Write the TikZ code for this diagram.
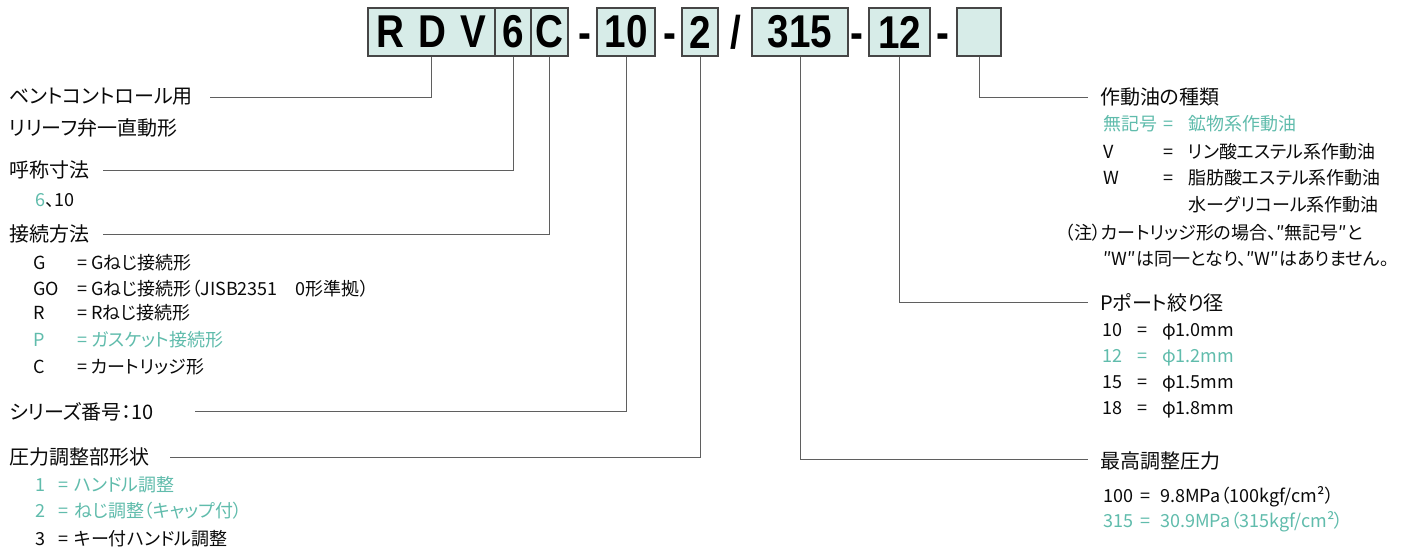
\documentclass[tikz,border=0pt]{standalone}
\usepackage{fontspec}
\usepackage{xcolor}
\usepackage{tikz}
\setmainfont{Noto Sans CJK JP}[RawFeature=+palt]
\newfontfamily\codefont{Liberation Sans}[FakeStretch=0.84]
\definecolor{RDVBoxFill}{RGB}{215, 236, 232}
\definecolor{RDVBoxLine}{RGB}{70, 70, 70}
\definecolor{RDVTeal}{RGB}{96, 188, 172}
\definecolor{RDVLeader}{RGB}{95, 95, 95}
\definecolor{RDVText}{RGB}{10, 10, 10}
\newdimen\pxunit \pxunit=0.75pt

\begin{document}
\begin{tikzpicture}[x=0.75pt,y=-0.75pt,
  codebox/.style={draw=RDVBoxLine, line width=0.9pt, fill=RDVBoxFill, minimum height=48\pxunit, inner sep=0pt,
    font=\codefont\bfseries\fontsize{34.5}{34.5}\selectfont},
  dashmark/.style={anchor=base, inner sep=0pt, font=\codefont\bfseries\fontsize{34.5}{34.5}\selectfont},
  head/.style={anchor=west, inner sep=0pt, text=RDVText, font=\fontsize{15}{18}\selectfont},
  item/.style={anchor=west, inner sep=0pt, text=RDVText, font=\fontsize{13.5}{19}\selectfont},
  hot/.style={text=RDVTeal},
  leader/.style={draw=RDVLeader, line width=0.75pt}]
  \path[use as bounding box] (0,0) rectangle (1405,551);
  \fill[white] (0,0) rectangle (1405,551);

  % model code
  \node[codebox, minimum width=127\pxunit] (rdv) at (431.5,32) {R\hspace{0.3em}D\hspace{0.3em}V};
  \node[codebox, minimum width=36\pxunit] (size) at (513,32) {6};
  \node[codebox, minimum width=37\pxunit] (conn) at (549.5,32) {C};
  \node[dashmark] (d1) at (585,48.5) {-};
  \node[codebox, minimum width=58\pxunit] (series) at (626,32) {10};
  \node[dashmark] (d2) at (670,48.5) {-};
  \node[codebox, minimum width=36\pxunit] (adj) at (700,32) {2};
  \node[dashmark] (sl) at (736,48.5) {/};
  \node[codebox, minimum width=96\pxunit] (maxp) at (800,32) {315};
  \node[dashmark] (d3) at (857,48.5) {-};
  \node[codebox, minimum width=61\pxunit] (port) at (899.5,32) {12};
  \node[dashmark] (d4) at (943,48.5) {-};
  \node[codebox, minimum width=44\pxunit] (oil) at (979,32) {};

  % left column
  \node[head] (ventT) at (9,97) {ベントコントロール用};
  \node[head] (reliefT) at (9,128) {リリーフ弁一直動形};
  \node[head] (sizeT) at (9,170) {呼称寸法};
  \node[item] (sizeV) at (35,200) {{\color{RDVTeal}6}、10};
  \node[head] (connT) at (9,234) {接続方法};
  \node[item] (connG) at (33,263) {\makebox[44\pxunit][l]{G}\makebox[14\pxunit][l]{=}Gねじ接続形};
  \node[item] (connGO) at (33,289) {\makebox[44\pxunit][l]{GO}\makebox[14\pxunit][l]{=}Gねじ接続形（JISB2351\quad 0形準拠）};
  \node[item] (connR) at (33,313) {\makebox[44\pxunit][l]{R}\makebox[14\pxunit][l]{=}Rねじ接続形};
  \node[item, hot] (connP) at (33,340) {\makebox[44\pxunit][l]{P}\makebox[14\pxunit][l]{=}ガスケット接続形};
  \node[item] (connC) at (33,367) {\makebox[44\pxunit][l]{C}\makebox[14\pxunit][l]{=}カートリッジ形};
  \node[head] (seriesT) at (9,412) {シリーズ番号：10};
  \node[head] (adjT) at (9,457) {圧力調整部形状};
  \node[item, hot] (adj1) at (35,485) {\makebox[23\pxunit][l]{1}\makebox[16\pxunit][l]{=}ハンドル調整};
  \node[item, hot] (adj2) at (35,511) {\makebox[23\pxunit][l]{2}\makebox[16\pxunit][l]{=}ねじ調整（キャップ付）};
  \node[item] (adj3) at (35,539) {\makebox[23\pxunit][l]{3}\makebox[16\pxunit][l]{=}キー付ハンドル調整};

  % right column
  \node[head] (oilT) at (1100,97) {作動油の種類};
  \node[item, hot] (oilNone) at (1103,124) {\makebox[60\pxunit][l]{無記号}\makebox[25\pxunit][l]{=}鉱物系作動油};
  \node[item] (oilV) at (1103,152) {\makebox[60\pxunit][l]{V}\makebox[25\pxunit][l]{=}リン酸エステル系作動油};
  \node[item] (oilW) at (1103,178) {\makebox[60\pxunit][l]{W}\makebox[25\pxunit][l]{=}脂肪酸エステル系作動油};
  \node[item] (oilWG) at (1188,205) {水ーグリコール系作動油};
  \node[item, anchor=north west, align=left] (note) at (1065,224)
    {（注）カートリッジ形の場合、″無記号″と\\\hspace*{38\pxunit}″W″は同一となり、″W″はありません。};
  \node[head] (portT) at (1100,303) {Pポート絞り径};
  \node[item] (port10) at (1102,332) {\makebox[35\pxunit][l]{10}\makebox[25\pxunit][l]{=}φ1.0mm};
  \node[item, hot] (port12) at (1102,358) {\makebox[35\pxunit][l]{12}\makebox[25\pxunit][l]{=}φ1.2mm};
  \node[item] (port15) at (1102,384) {\makebox[35\pxunit][l]{15}\makebox[25\pxunit][l]{=}φ1.5mm};
  \node[item] (port18) at (1102,410) {\makebox[35\pxunit][l]{18}\makebox[25\pxunit][l]{=}φ1.8mm};
  \node[head] (maxpT) at (1100,461) {最高調整圧力};
  \node[item] (max100) at (1103,497) {\makebox[37\pxunit][l]{100}\makebox[20\pxunit][l]{=}9.8MPa（100kgf/cm²）};
  \node[item, hot] (max315) at (1103,522) {\makebox[37\pxunit][l]{315}\makebox[20\pxunit][l]{=}30.9MPa（315kgf/cm²）};

  % leader ends
  \coordinate (ventE) at (210,97);
  \coordinate (sizeE) at (103,170);
  \coordinate (connE) at (103,234);
  \coordinate (seriesE) at (195,411);
  \coordinate (adjE) at (170,457);
  \coordinate (maxpE) at (1088,459);
  \coordinate (portE) at (1088,302);
  \coordinate (oilE) at (1088,97);

  \draw[leader] (rdv.south) |- (ventE);
  \draw[leader] (size.south) |- (sizeE);
  \draw[leader] (conn.south) |- (connE);
  \draw[leader] (series.south) |- (seriesE);
  \draw[leader] (adj.south) |- (adjE);
  \draw[leader] (maxp.south) |- (maxpE);
  \draw[leader] (port.south) |- (portE);
  \draw[leader] (oil.south) |- (oilE);
\end{tikzpicture}
\end{document}
